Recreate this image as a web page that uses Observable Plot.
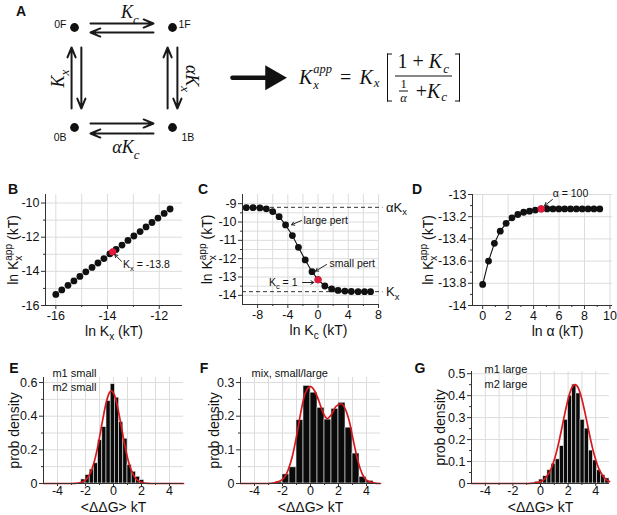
<!DOCTYPE html>
<html>
<head>
<meta charset="utf-8">
<script src="https://cdn.jsdelivr.net/npm/d3@7"></script>
<script src="https://cdn.jsdelivr.net/npm/@observablehq/plot@0.6"></script>
<style>
  body { margin: 0; background: #fff; }
  #fig { position: relative; width: 617px; height: 515px; overflow: hidden; font-family: "Liberation Sans", Arial, Helvetica, sans-serif; color: #111; }
  #fig svg { position: absolute; left: 0; top: 0; overflow: visible; }
  .plab { position: absolute; font-weight: bold; font-size: 14px; transform: translate(-50%, -50%); line-height: 1; }
  .eq { position: absolute; left: 299px; top: 77px; transform: translateY(-50%); display: flex; align-items: center;
        font-family: "Liberation Serif", "DejaVu Serif", serif; font-size: 20px; white-space: nowrap; color: #111; }
  .eq i { font-style: italic; }
  .ss { display: inline-flex; flex-direction: column; font-size: 12.5px; line-height: 12px; font-style: italic; margin-left: 1px; }
  .ss .up { position: relative; top: -3px; }
  .ss .dn { position: relative; top: 1px; }
  .sub { font-size: 13px; font-style: italic; position: relative; top: 5px; margin-left: 1px; }
  .op { margin: 0 8px; }
  .brk { width: 4px; height: 46px; border: 1.3px solid #111; }
  .brl { border-right: none; margin: 0 3px 0 7px; }
  .brr { border-left: none; margin: 0 0 0 3px; }
  .frac { display: inline-flex; flex-direction: column; align-items: center; }
  .num { padding: 0 3px 3px 3px; border-bottom: 1px solid #111; }
  .den { padding-top: 1px; display: flex; align-items: center; }
  .sfrac { display: inline-flex; flex-direction: column; align-items: center; font-size: 12.5px; line-height: 13px; margin-right: 3px; }
  .sfrac .t { border-bottom: 0.8px solid #111; padding: 0 1px; }
</style>
</head>
<body>
<div id="fig"></div>
<script>
// ---------------- DATA ----------------
// Panel B: ln Kx^app vs ln Kx
const bLnKx   = [-16.00, -15.77, -15.53, -15.30, -15.07, -14.84, -14.60, -14.37, -14.14, -13.91,
                 -13.67, -13.44, -13.21, -12.98, -12.74, -12.51, -12.28, -12.05, -11.81, -11.58];
const bLnKapp = [-15.35, -15.09, -14.82, -14.56, -14.30, -14.03, -13.77, -13.51, -13.25, -12.98,
                 -12.72, -12.46, -12.19, -11.93, -11.67, -11.40, -11.14, -10.88, -10.61, -10.35];
const bRedX = [-13.8];
const bRedY = [-12.86];

// Panel C: ln Kx^app vs ln Kc
const cLnKc   = [-9.5, -8.6, -7.7, -6.85, -6.0, -5.15, -4.3, -3.4, -2.6, -1.7,
                 -0.8, 0, 0.9, 1.8, 2.65, 3.55, 4.4, 5.3, 6.15, 6.95];
const cLnKapp = [-9.22, -9.22, -9.23, -9.28, -9.43, -9.71, -10.16, -10.74, -11.38, -12.07,
                 -12.71, -13.15, -13.49, -13.65, -13.73, -13.77, -13.79, -13.8, -13.8, -13.8];
const cRedX = [0];
const cRedY = [-13.15];
const cAsymY = [-9.2, -13.8];
const cAsymLabel = ["αK_{x}", "K_{x}"];

// Panel D: ln Kx^app vs ln alpha
const dLnA    = [0, 0.46, 0.92, 1.38, 1.84, 2.3, 2.76, 3.22, 3.68, 4.14, 4.6,
                 5.06, 5.52, 5.98, 6.44, 6.9, 7.36, 7.82, 8.28, 8.74, 9.2];
const dLnKapp = [-13.81, -13.6, -13.44, -13.33, -13.26, -13.21, -13.18, -13.16, -13.15, -13.14, -13.13,
                 -13.13, -13.13, -13.13, -13.13, -13.13, -13.13, -13.13, -13.13, -13.13, -13.13];
const dRedX = [4.6];
const dRedY = [-13.13];

// Panel E: histogram (bin left edges, width 0.3) + fit
const eBinLeft = [-2.3, -2.0, -1.7, -1.4, -1.1, -0.8, -0.5, -0.2, 0.1, 0.4, 0.7, 1.0, 1.3, 1.6, 1.9];
const eDensity = [0.024, 0.05, 0.083, 0.12, 0.257, 0.335, 0.49, 0.59, 0.51, 0.365, 0.266, 0.11, 0.07, 0.04, 0.02];
const eBinWidth = 0.3;
const eFitX = [-5, -3, -2.5, -2, -1.7, -1.4, -1.1, -0.8, -0.5, -0.3, -0.15, 0, 0.2, 0.5, 0.8, 1.1, 1.4, 1.7, 2.2, 2.7, 3.5, 5];
const eFitY = [0, 0, 0.003, 0.02, 0.054, 0.122, 0.23, 0.366, 0.489, 0.538, 0.55, 0.538, 0.489, 0.366, 0.23, 0.122, 0.054, 0.02, 0.003, 0, 0, 0];

// Panel F: histogram (bin left edges, width 0.5) + fit
const fBinLeft = [-3, -2.5, -2, -1.5, -1, -0.5, 0, 0.5, 1, 1.5, 2, 2.5, 3, 3.5, 4];
const fDensity = [0.002, 0.005, 0.027, 0.048, 0.188, 0.29, 0.27, 0.225, 0.19, 0.222, 0.24, 0.166, 0.089, 0.02, 0.008];
const fBinWidth = 0.5;
const fFitX = [-5, -3, -2.5, -2, -1.6, -1.3, -1, -0.7, -0.4, 0, 0.3, 0.6, 0.9, 1.2, 1.5, 1.8, 2.2, 2.5, 2.8, 3.1, 3.4, 3.7, 4, 4.5, 5];
const fFitY = [0, 0, 0.003, 0.012, 0.04, 0.08, 0.14, 0.21, 0.265, 0.288, 0.275, 0.245, 0.21, 0.193, 0.205, 0.228, 0.237, 0.22, 0.18, 0.12, 0.065, 0.028, 0.01, 0.002, 0];

// Panel G: histogram (bin left edges, width 0.3) + fit
const gBinLeft = [-0.4, -0.1, 0.2, 0.5, 0.8, 1.1, 1.4, 1.7, 2.0, 2.3, 2.6, 2.9, 3.2, 3.5, 3.8, 4.1, 4.4, 4.7];
const gDensity = [0.008, 0.018, 0.033, 0.06, 0.09, 0.11, 0.17, 0.29, 0.40, 0.45, 0.41, 0.29, 0.25, 0.15, 0.105, 0.06, 0.038, 0.023];
const gBinWidth = 0.3;
const gFitX = [-5, -1, -0.5, 0, 0.25, 0.5, 0.75, 1.0, 1.25, 1.5, 1.75, 2.0, 2.25, 2.5, 2.75, 3.0, 3.25, 3.5, 3.75, 4.0, 4.25, 4.5, 4.75, 5.0];
const gFitY = [0, 0, 0.0015, 0.0085, 0.018, 0.036, 0.064, 0.108, 0.167, 0.238, 0.315, 0.384, 0.433, 0.45, 0.433, 0.384, 0.315, 0.238, 0.167, 0.108, 0.064, 0.036, 0.018, 0.0085];

// Panel A: kinetic scheme (diagram units: columns 0..1, rows 0..1)
const aStates = ["0F", "1F", "0B", "1B"];
const aStateCol = [0, 1, 0, 1];
const aStateRow = [0, 0, 1, 1];
const aRates = ["K_{c}", "αK_{c}", "K_{x}", "αK_{x}"];

// ---------------- HELPERS ----------------
const FONT = '"Liberation Sans", Arial, Helvetica, sans-serif';
const SERIF = '"Liberation Serif", "DejaVu Serif", serif';
const RED_DOT = "#e5173b";
const RED_LINE = "#d7191c";
const GRID = "#dcdcdc";
const AX = "#333";
const W = 617, H = 515;
const fig = document.getElementById("fig");
const fmt = d => String(d);
const zip = (xs, ys) => xs.map((x, i) => ({x, y: ys[i]}));
const bins = (left, h, w) => left.map((x1, i) => ({x1, x2: x1 + w, y: h[i]}));

function richify(svg) {
  const NS = "http://www.w3.org/2000/svg";
  svg.querySelectorAll("text").forEach(t => {
    const s = t.textContent;
    if (!/[_^]\{/.test(s)) return;
    const fs = parseFloat(getComputedStyle(t).fontSize) || 12;
    const parts = [];
    const re = /([_^])\{([^}]*)\}/g;
    let last = 0, m;
    while ((m = re.exec(s))) {
      if (m.index > last) parts.push({k: "n", s: s.slice(last, m.index)});
      parts.push({k: m[1] === "_" ? "sub" : "sup", s: m[2]});
      last = re.lastIndex;
    }
    if (last < s.length) parts.push({k: "n", s: s.slice(last)});
    while (t.firstChild) t.removeChild(t.firstChild);
    let base = 0, prev = null;
    for (const p of parts) {
      const ts = document.createElementNS(NS, "tspan");
      ts.textContent = p.s;
      const off = p.k === "sub" ? 0.3 * fs : p.k === "sup" ? -0.42 * fs : 0;
      if (p.k !== "n") ts.setAttribute("font-size", (0.72 * fs).toFixed(2));
      if (off - base) ts.setAttribute("dy", (off - base).toFixed(2));
      base = off;
      t.appendChild(ts);
      if (p.k === "sup" && prev && prev.k === "sub") ts.setAttribute("dx", (-prev.el.getComputedTextLength()).toFixed(2));
      prev = {k: p.k, el: ts};
    }
  });
}

function mount(svg) { fig.appendChild(svg); richify(svg); }

function frameOpts([l, r, t, b]) {
  return {width: W, height: H, marginLeft: l, marginRight: W - r, marginTop: t, marginBottom: H - b,
          style: {fontFamily: FONT, fontSize: "12.5px", overflow: "visible", color: "#111"}};
}

function axes(a) {
  const xs = a.xTickSize ?? 4, xp = a.xTickPadding ?? 2;
  return [
    Plot.gridX({ticks: a.xGrid, stroke: GRID, strokeOpacity: 1}),
    Plot.gridY({ticks: a.yGrid, stroke: GRID, strokeOpacity: 1}),
    Plot.axisX({ticks: a.xMinor, tickSize: 2, tickFormat: () => "", label: null, stroke: AX}),
    Plot.axisY({ticks: a.yMinor, tickSize: 2, tickFormat: () => "", label: null, stroke: AX}),
    Plot.axisX({ticks: a.xTicks, tickSize: xs, tickPadding: xp, tickFormat: fmt, label: null, stroke: AX, fontSize: 12.5}),
    Plot.axisY({ticks: a.yTicks, tickSize: 4, tickPadding: 2, tickFormat: fmt, label: null, stroke: AX, fontSize: 12.5}),
    Plot.ruleX([a.xDomain[0]], {stroke: AX, strokeWidth: 1}),
    Plot.ruleY([a.yDomain[0]], {stroke: AX, strokeWidth: 1})
  ];
}

function labels(xl, yl, ydx, xdx = 0, xdy = 26) {
  return [
    Plot.text([xl], {frameAnchor: "bottom", textAnchor: "middle", lineAnchor: "middle", dy: xdy, dx: xdx, fontSize: 14}),
    Plot.text([yl], {frameAnchor: "left", textAnchor: "middle", lineAnchor: "middle", dx: ydx, rotate: -90, fontSize: 14})
  ];
}

// ---------------- PANEL A ----------------
{
  const states = aStates.map((s, i) => ({s, x: aStateCol[i], y: aStateRow[i]}));
  const at = (c, r) => states.filter(d => d.x === c && d.y === r);
  // double arrows between the states (diagram units)
  const arrows = [
    {x1: 0.163, y1: -0.04, x2: 0.806, y2: -0.04}, {x1: 0.806, y1: 0.05, x2: 0.163, y2: 0.05},
    {x1: 0.163, y1: 0.96, x2: 0.806, y2: 0.96},   {x1: 0.806, y1: 1.06, x2: 0.163, y2: 1.06},
    {x1: -0.03, y1: 0.81, x2: -0.03, y2: 0.2},    {x1: 0.07, y1: 0.2, x2: 0.07, y2: 0.81},
    {x1: 0.95, y1: 0.81, x2: 0.95, y2: 0.2},      {x1: 1.05, y1: 0.2, x2: 1.05, y2: 0.81}
  ];
  const rates = [
    {t: aRates[0], x: 0.566, y: -0.15, r: 0}, {t: aRates[1], x: 0.525, y: 1.2, r: 0},
    {t: aRates[2], x: -0.166, y: 0.51, r: -90}, {t: aRates[3], x: 1.2, y: 0.51, r: 90}
  ];
  const svg = Plot.plot({
    width: W, height: H, margin: 0,
    style: {fontFamily: FONT, overflow: "visible", color: "#111"},
    x: {domain: [0, 1], range: [74, 172], axis: null},
    y: {domain: [0, 1], range: [27, 127], axis: null},
    marks: [
      Plot.arrow(arrows, {x1: "x1", y1: "y1", x2: "x2", y2: "y2", stroke: "#1a1a1a", strokeWidth: 2, headLength: 8, headAngle: 45}),
      Plot.dot(states, {x: "x", y: "y", r: 4.4, fill: "#111"}),
      Plot.text(at(0, 0), {x: "x", y: "y", text: "s", textAnchor: "end", dx: -8, dy: -3, fontSize: 10.5}),
      Plot.text(at(1, 0), {x: "x", y: "y", text: "s", textAnchor: "start", dx: 6, dy: -3, fontSize: 10.5}),
      Plot.text(at(0, 1), {x: "x", y: "y", text: "s", textAnchor: "end", dx: -8, dy: 10, fontSize: 10.5}),
      Plot.text(at(1, 1), {x: "x", y: "y", text: "s", textAnchor: "start", dx: 9, dy: 10, fontSize: 10.5}),
      Plot.text(rates, {x: "x", y: "y", text: "t", rotate: "r", fontFamily: SERIF, fontStyle: "italic", fontSize: 18}),
      Plot.line([{x: 1.612, y: 0.503}, {x: 1.97, y: 0.503}], {x: "x", y: "y", stroke: "#111", strokeWidth: 4.5}),
      Plot.dot([{x: 2.02, y: 0.503}], {x: "x", y: "y", symbol: "triangle", r: 9.3, rotate: 90, fill: "#111", stroke: "none"})
    ]
  });
  mount(svg);
}

// ---------------- PANEL B ----------------
{
  const xDomain = [-16.4, -11.1], yDomain = [-16, -9.5];
  const svg = Plot.plot({
    ...frameOpts([45, 182, 194, 305]),
    x: {domain: xDomain}, y: {domain: yDomain},
    marks: [
      ...axes({xDomain, yDomain, xTicks: [-16, -14, -12], xMinor: [-15, -13], yTicks: [-16, -14, -12, -10], yMinor: [-15, -13, -11],
               xGrid: [-16, -15, -14, -13, -12], yGrid: [-15, -14, -13, -12, -11, -10]}),
      Plot.dot(zip(bLnKx, bLnKapp), {x: "x", y: "y", r: 3.4, fill: "#111"}),
      Plot.dot(zip(bRedX, bRedY), {x: "x", y: "y", r: 3.6, fill: RED_DOT}),
      Plot.arrow([{x1: -13.46, y1: -13.41, x2: -13.72, y2: -13.02}], {x1: "x1", y1: "y1", x2: "x2", y2: "y2", stroke: "#222", strokeWidth: 1, headLength: 5}),
      Plot.text(["K_{x} = -13.8"], {x: -13.4, y: -13.62, textAnchor: "start", fontSize: 10.5}),
      ...labels("ln K_{x} (kT)", "ln K_{x}^{app} (kT)", -32)
    ]
  });
  mount(svg);
}

// ---------------- PANEL C ----------------
{
  const xDomain = [-10, 8], yDomain = [-14.5, -8.5];
  const asym = cAsymY.map((y, i) => ({y, t: cAsymLabel[i]}));
  const svg = Plot.plot({
    ...frameOpts([242, 378, 194, 304]),
    x: {domain: xDomain}, y: {domain: yDomain},
    marks: [
      ...axes({xDomain, yDomain, xTicks: [-8, -4, 0, 4, 8], xMinor: [-6, -2, 2, 6], yTicks: [-14, -13, -12, -11, -10, -9], yMinor: [-13.5, -12.5, -11.5, -10.5, -9.5],
               xGrid: [-8, -6, -4, -2, 0, 2, 4, 6, 8], yGrid: [-14, -13.5, -13, -12.5, -12, -11.5, -11, -10.5, -10, -9.5, -9]}),
      Plot.ruleY(asym, {y: "y", x1: -10, x2: 8.6, stroke: "#333", strokeDasharray: "4,3"}),
      Plot.text(asym, {x: 8.6, y: "y", text: "t", textAnchor: "start", dx: 3, fontSize: 13}),
      Plot.line(zip(cLnKc, cLnKapp), {x: "x", y: "y", stroke: "#111", strokeWidth: 1.1}),
      Plot.dot(zip(cLnKc, cLnKapp), {x: "x", y: "y", r: 3.4, fill: "#111"}),
      Plot.dot(zip(cRedX, cRedY), {x: "x", y: "y", r: 3.6, fill: RED_DOT}),
      Plot.arrow([
        {x1: -2.19, y1: -9.92, x2: -3.52, y2: -10.15},
        {x1: 1.12, y1: -12.32, x2: -0.34, y2: -12.68},
        {x1: -2.06, y1: -13.3, x2: -0.55, y2: -13.3}
      ], {x1: "x1", y1: "y1", x2: "x2", y2: "y2", stroke: "#222", strokeWidth: 1, headLength: 5}),
      Plot.text(["large pert"], {x: -1.93, y: -9.92, textAnchor: "start", fontSize: 10.5}),
      Plot.text(["small pert"], {x: 1.51, y: -12.26, textAnchor: "start", fontSize: 10.5}),
      Plot.text(["K_{c} = 1"], {x: -2.72, y: -13.3, textAnchor: "end", fontSize: 10.5}),
      ...labels("ln K_{c} (kT)", "ln K_{x}^{app} (kT)", -35, 8)
    ]
  });
  mount(svg);
}

// ---------------- PANEL D ----------------
{
  const xDomain = [-0.8, 10.2], yDomain = [-14, -13];
  const svg = Plot.plot({
    ...frameOpts([472, 612, 194, 305]),
    x: {domain: xDomain}, y: {domain: yDomain},
    marks: [
      ...axes({xDomain, yDomain, xTicks: [0, 2, 4, 6, 8, 10], xMinor: [1, 3, 5, 7, 9], yTicks: [-14, -13.8, -13.6, -13.4, -13.2, -13], yMinor: [-13.9, -13.7, -13.5, -13.3, -13.1],
               xGrid: [0, 2, 4, 6, 8, 10], yGrid: [-13.8, -13.6, -13.4, -13.2, -13]}),
      Plot.line(zip(dLnA, dLnKapp), {x: "x", y: "y", stroke: "#111", strokeWidth: 1.1}),
      Plot.dot(zip(dLnA, dLnKapp), {x: "x", y: "y", r: 3.4, fill: "#111"}),
      Plot.dot(zip(dRedX, dRedY), {x: "x", y: "y", r: 3.6, fill: RED_DOT}),
      Plot.arrow([{x1: 5.48, y1: -13.045, x2: 4.86, y2: -13.1}], {x1: "x1", y1: "y1", x2: "x2", y2: "y2", stroke: "#222", strokeWidth: 1, headLength: 5}),
      Plot.text(["α = 100"], {x: 6.9, y: -12.99, fontSize: 10.5}),
      ...labels("ln α (kT)", "ln K_{x}^{app} (kT)", -44, 15)
    ]
  });
  mount(svg);
}

// ---------------- PANELS E, F, G ----------------
function histPanel(box, yDomain, yTicks, yMinor, yGrid, binsData, fit, notes, ydx) {
  const xDomain = [-5, 5];
  const svg = Plot.plot({
    ...frameOpts(box),
    x: {domain: xDomain}, y: {domain: yDomain},
    marks: [
      ...axes({xDomain, yDomain, xTicks: [-4, -2, 0, 2, 4], xMinor: [-3, -1, 1, 3], yTicks, yMinor,
               xGrid: [-4, -3, -2, -1, 0, 1, 2, 3, 4], yGrid, xTickSize: 3, xTickPadding: 0}),
      Plot.rectY(binsData, {x1: "x1", x2: "x2", y: "y", fill: "#0a0a0a", stroke: "#e6e6e6", strokeWidth: 0.6}),
      Plot.line(fit, {x: "x", y: "y", stroke: RED_LINE, strokeWidth: 1.7, curve: "monotone-x"}),
      Plot.ruleY([0], {stroke: AX}),
      Plot.text(notes, {x: "x", y: "y", text: "t", textAnchor: "start", fontSize: 11}),
      ...labels("<ΔΔG> kT", "prob density", ydx, 0, 24)
    ]
  });
  mount(svg);
}

histPanel([43, 183, 377, 483], [0, 0.63], [0, 0.2, 0.4, 0.6], [0.1, 0.3, 0.5], [0.1, 0.2, 0.3, 0.4, 0.5, 0.6],
  bins(eBinLeft, eDensity, eBinWidth), zip(eFitX, eFitY),
  [{x: -4.36, y: 0.654, t: "m1 small"}, {x: -4.36, y: 0.57, t: "m2 small"}], -29);

histPanel([240, 380, 377, 483], [0, 0.315], [0, 0.1, 0.2, 0.3], [0.05, 0.15, 0.25], [0.05, 0.1, 0.15, 0.2, 0.25, 0.3],
  bins(fBinLeft, fDensity, fBinWidth), zip(fFitX, fFitY),
  [{x: -4.21, y: 0.327, t: "mix, small/large"}], -26);

histPanel([471, 609, 371, 483], [0, 0.51], [0, 0.1, 0.2, 0.3, 0.4, 0.5], [0.05, 0.15, 0.25, 0.35, 0.45], [0.1, 0.2, 0.3, 0.4, 0.5],
  bins(gBinLeft, gDensity, gBinWidth), zip(gFitX, gFitY),
  [{x: -4.06, y: 0.519, t: "m1 large"}, {x: -4.06, y: 0.451, t: "m2 large"}], -31);

// ---------------- HTML overlays: panel letters and equation ----------------
const letters = [["A", 21, 11], ["B", 13, 189], ["C", 203, 189], ["D", 417, 189], ["E", 14, 368], ["F", 204, 368], ["G", 420, 368]];
letters.forEach(([t, x, y]) => {
  const d = document.createElement("div");
  d.className = "plab"; d.textContent = t;
  d.style.left = x + "px"; d.style.top = y + "px";
  fig.appendChild(d);
});
const eq = document.createElement("div");
eq.className = "eq";
eq.innerHTML = '<i>K</i><span class="ss"><span class="up">app</span><span class="dn">x</span></span>' +
  '<span class="op">=</span><i>K</i><span class="sub">x</span>' +
  '<span class="brk brl"></span>' +
  '<span class="frac"><span class="num">1 + <i>K</i><span class="sub">c</span></span>' +
  '<span class="den"><span class="sfrac"><span class="t">1</span><i>α</i></span>&nbsp;+ <i>K</i><span class="sub">c</span></span></span>' +
  '<span class="brk brr"></span>';
fig.appendChild(eq);
</script>
</body>
</html>
